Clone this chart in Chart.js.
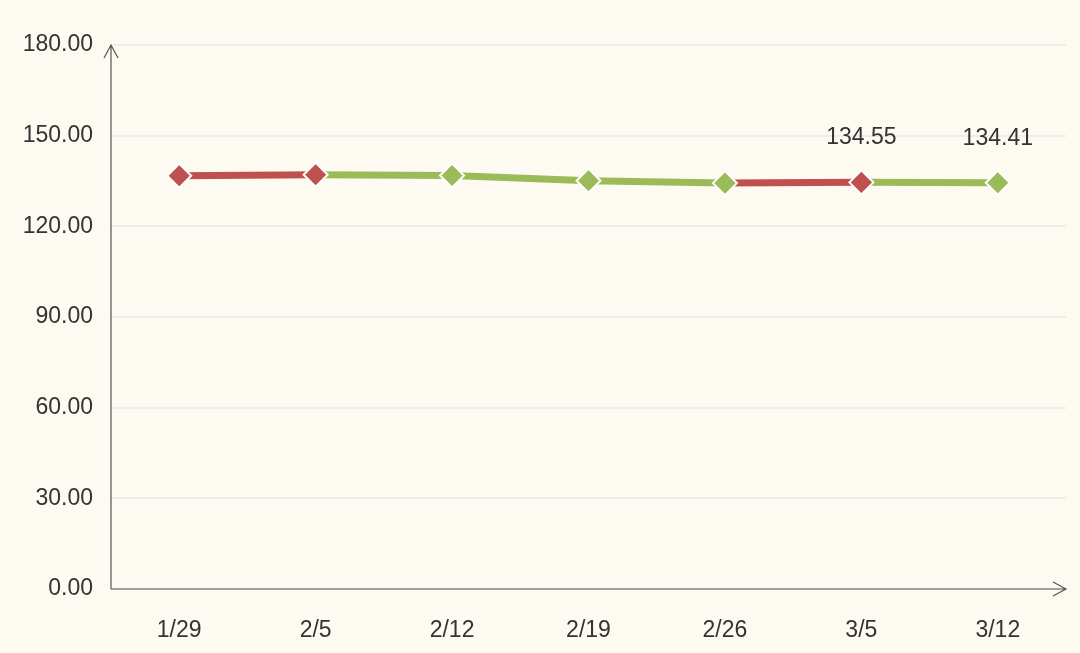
<!DOCTYPE html>
<html>
<head>
<meta charset="utf-8">
<script src="https://cdn.jsdelivr.net/npm/chart.js@4"></script>
<style>
  html, body { margin: 0; padding: 0; background: #fdfaf2; }
  #wrap { width: 1080px; height: 653px; }
</style>
</head>
<body>
<div id="wrap"><canvas id="chart" width="1080" height="653"></canvas></div>
<script>
const dates = ['1/29', '2/5', '2/12', '2/19', '2/26', '3/5', '3/12'];
const prices = [136.75, 137.05, 136.8, 135.1, 134.3, 134.55, 134.41];
const labelled = [5, 6];

const RED = '#c0504d';
const GREEN = '#9bbb59';
const FONT = '"Liberation Sans", Arial, sans-serif';

const pointColors = prices.map((v, i) => (i === 0 || v > prices[i - 1]) ? RED : GREEN);

// axis lines with arrow heads, plus the two value labels
const axisArrows = {
    id: 'axisArrows',
    afterDatasetsDraw(chart) {
        const { ctx, chartArea: a } = chart;
        ctx.save();
        ctx.strokeStyle = '#555';
        ctx.lineWidth = 1.2;
        ctx.beginPath();
        ctx.moveTo(a.left, a.bottom); ctx.lineTo(a.right, a.bottom);
        ctx.moveTo(a.right - 13, a.bottom - 7); ctx.lineTo(a.right, a.bottom); ctx.lineTo(a.right - 13, a.bottom + 7);
        ctx.moveTo(a.left, a.bottom); ctx.lineTo(a.left, a.top);
        ctx.moveTo(a.left - 7, a.top + 13); ctx.lineTo(a.left, a.top); ctx.lineTo(a.left + 7, a.top + 13);
        ctx.stroke();
        const meta = chart.getDatasetMeta(0);
        ctx.fillStyle = '#333';
        ctx.font = '23px ' + FONT;
        ctx.textAlign = 'center';
        ctx.textBaseline = 'bottom';
        labelled.forEach(i => {
            const p = meta.data[i];
            ctx.fillText(prices[i].toFixed(2), p.x, p.y - 33);
        });
        ctx.restore();
    }
};

new Chart(document.getElementById('chart'), {
    type: 'line',
    data: {
        labels: dates,
        datasets: [{
            data: prices,
            borderWidth: 7,
            tension: 0,
            segment: {
                borderColor: c => c.p1.parsed.y > c.p0.parsed.y ? RED : GREEN
            },
            pointStyle: 'rectRot',
            pointRadius: 12,
            pointHoverRadius: 12,
            pointBackgroundColor: pointColors,
            pointBorderColor: '#ffffff',
            pointBorderWidth: 2
        }]
    },
    options: {
        responsive: false,
        animation: false,
        layout: { padding: { top: 45, right: 4, left: 0, bottom: 0 } },
        plugins: { legend: { display: false }, tooltip: { enabled: false } },
        scales: {
            x: {
                offset: true,
                grid: { display: false },
                border: { display: false },
                ticks: { color: '#333', padding: 20, font: { size: 23, family: FONT } },
                afterFit: s => { s.height = 64; }
            },
            y: {
                min: 0, max: 180,
                grid: { color: '#eceeec', lineWidth: 2, drawTicks: false },
                border: { display: false },
                ticks: {
                    stepSize: 30,
                    color: '#333',
                    padding: 18,
                    font: { size: 23, family: FONT },
                    callback: v => v.toFixed(2)
                },
                afterFit: s => { s.width = 111; }
            }
        }
    },
    plugins: [axisArrows]
});
</script>
</body>
</html>
